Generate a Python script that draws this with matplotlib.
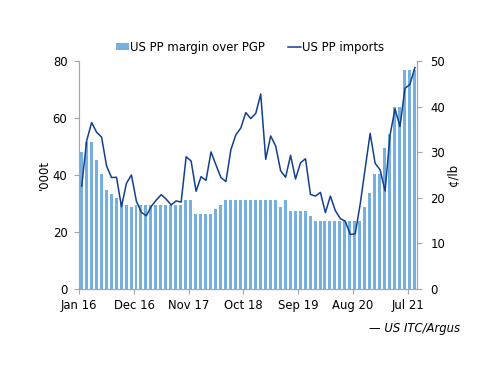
import numpy as np
import matplotlib
matplotlib.use("Agg")
import matplotlib.pyplot as plt
from matplotlib.patches import Patch
from matplotlib.lines import Line2D

# Data: monthly, Jan 2016 .. Aug 2021
margin = [30.0, 32.3, 32.3, 28.3, 25.2, 21.8, 20.8, 20.0, 19.0, 18.5,
          18.0, 18.5, 18.5, 18.5, 18.5, 18.5, 18.5, 18.5, 18.5, 18.5,
          18.5, 19.5, 19.5, 16.5, 16.5, 16.5, 16.5, 17.5, 18.5, 19.5,
          19.5, 19.5, 19.5, 19.5, 19.5, 19.5, 19.5, 19.5, 19.5, 19.5,
          18.0, 19.5, 17.0, 17.0, 17.0, 17.0, 16.0, 15.0, 15.0, 15.0,
          15.0, 15.0, 15.0, 15.0, 15.0, 15.0, 15.0, 18.0, 21.0, 25.2,
          25.2, 31.0, 34.0, 40.0, 40.0, 48.0, 48.0, 48.0]
imports = [36.1, 52.0, 58.4, 55.0, 53.3, 43.2, 39.1, 39.2, 28.9, 37.1,
           40.0, 30.8, 26.9, 25.7, 29.0, 31.2, 33.1, 31.5, 29.5, 30.9,
           30.5, 46.4, 44.9, 34.3, 39.4, 38.1, 48.1, 43.5, 39.1, 37.7,
           48.9, 54.1, 56.5, 61.9, 59.8, 61.6, 68.4, 45.5, 53.7, 50.2,
           41.5, 39.2, 46.9, 38.6, 44.3, 45.7, 33.2, 32.6, 33.9, 26.8,
           32.6, 27.5, 24.7, 23.8, 19.1, 19.4, 29.8, 42.3, 54.6, 44.1,
           41.8, 34.4, 54.0, 63.2, 57.0, 70.4, 71.8, 77.7]
tick_labels = ["Jan 16", "Dec 16", "Nov 17", "Oct 18", "Sep 19", "Aug 20", "Jul 21"]
tick_months = [0, 11, 22, 33, 44, 55, 66]

bar_color = "#74B0E0"
line_color = "#12408F"
axis_color = "#A6A6A6"
plt.rcParams['font.family'] = ['DejaVu Sans']
fs = 8.4

fig = plt.figure(figsize=(5.0, 3.86), dpi=100)
ax = fig.add_axes([0.1586, 0.2513, 0.6754, 0.5907])
ax2 = ax.twinx()

n = len(margin)
x = np.arange(n)
ax2.bar(x + 0.4, margin, width=0.6, color=bar_color, zorder=1)
ax.plot(x + 0.48, imports, color=line_color, lw=1.1, zorder=3)
ax.set_zorder(ax2.get_zorder() + 1)
ax.patch.set_visible(False)

ax.set_xlim(0, 67.9)
ax.set_ylim(0, 80)
ax2.set_ylim(0, 50)
ax.set_yticks([0, 20, 40, 60, 80])
ax2.set_yticks([0, 10, 20, 30, 40, 50])
ax.set_xticks(tick_months)
ax.set_xticklabels(tick_labels)

for a in (ax, ax2):
    for s in a.spines.values():
        s.set_color(axis_color)
        s.set_linewidth(0.8)
    a.spines['top'].set_visible(False)
    a.tick_params(colors=axis_color, labelcolor="black", labelsize=fs,
                  length=3.5, width=0.8, direction='out')
ax.tick_params(axis='y', pad=5)
ax2.tick_params(axis='y', pad=6)
ax.tick_params(axis='x', pad=4)

ax.set_ylabel("'000t", fontsize=fs, labelpad=1)
ax2.set_ylabel("¢/lb", fontsize=fs, labelpad=1)

handles = [Patch(facecolor=bar_color, edgecolor='none'),
           Line2D([0], [0], color=line_color, lw=1.1)]
fig.legend(handles, ["US PP margin over PGP", "US PP imports"],
           loc='center', bbox_to_anchor=(0.5, 0.878), ncol=2, frameon=False,
           fontsize=fs, handlelength=1.1, handleheight=0.6, handletextpad=0.1,
           columnspacing=2.0)

fig.text(0.92, 0.148, "— US ITC/Argus", ha='right', va='center',
         style='italic', fontsize=fs)

fig.savefig("out.png", dpi=100)
